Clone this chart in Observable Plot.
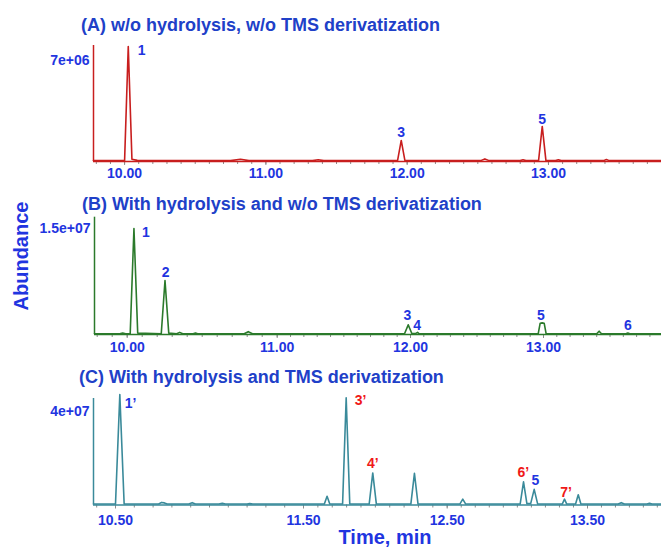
<!DOCTYPE html>
<html>
<head>
<meta charset="utf-8">
<script src="https://cdn.jsdelivr.net/npm/d3@7"></script>
<script src="https://cdn.jsdelivr.net/npm/@observablehq/plot@0.6"></script>
<style>
html, body { margin: 0; padding: 0; background: #fff; }
#chart { position: relative; width: 661px; height: 547px; overflow: hidden; font-family: "Liberation Sans", Arial, sans-serif; }
.panel { position: absolute; left: 0; }
.title { position: absolute; font-weight: bold; font-size: 18px; line-height: 1; color: #2040c8; white-space: nowrap; }
.axlabel { position: absolute; font-weight: bold; font-size: 20px; line-height: 1; color: #1f35e0; white-space: nowrap; transform: translate(-50%, -50%); }
</style>
</head>
<body>
<div id="chart"></div>
<script>
// ---------- Panel A: w/o hydrolysis, w/o TMS derivatization ----------
const timeA = [9.78, 9.99, 10.000, 10.026, 10.052, 10.09, 10.75, 10.82, 10.88, 11.33, 11.37, 11.41,
  11.932, 11.958, 11.984, 12.52, 12.55, 12.58, 12.80, 12.82, 12.84, 12.930, 12.956, 12.982,
  13.05, 13.07, 13.09, 13.39, 13.41, 13.43, 13.80];
const abundA = [0.06e6, 0.06e6, 0.06e6, 7.97e6, 0.15e6, 0.08e6, 0.06e6, 0.16e6, 0.06e6, 0.06e6, 0.12e6, 0.06e6,
  0.06e6, 1.46e6, 0.06e6, 0.06e6, 0.18e6, 0.06e6, 0.06e6, 0.12e6, 0.06e6, 0.06e6, 2.43e6, 0.06e6,
  0.06e6, 0.12e6, 0.06e6, 0.06e6, 0.14e6, 0.06e6, 0.06e6];
const peakTextA = ["1", "3", "5"];
const peakTimeA = [10.12, 11.958, 12.956];
const peakAbundA = [7.69e6, 2.03e6, 2.89e6];
const peakColorA = ["#1f35e0", "#1f35e0", "#1f35e0"];
const xTicksA = [10, 11, 12, 13];
const yTicksA = [7e6];
const yTickLabelsA = ["7e+06"];

// ---------- Panel B: with hydrolysis, w/o TMS derivatization ----------
const timeB = [9.782, 9.95, 9.97, 9.99, 10.02, 10.045, 10.07, 10.227, 10.252, 10.277, 10.33, 10.35, 10.37,
  10.44, 10.455, 10.47, 10.78, 10.807, 10.835, 11.955, 11.983, 12.01, 12.04, 12.053, 12.066,
  12.96, 12.975, 12.99, 13.005, 13.02, 13.40, 13.418, 13.436, 13.62, 13.634, 13.648, 13.887];
const abundB = [0.1e6, 0.1e6, 0.2e6, 0.1e6, 0.1e6, 15.0e6, 0.2e6, 0.1e6, 7.64e6, 0.2e6, 0.1e6, 0.3e6, 0.1e6,
  0.1e6, 0.2e6, 0.1e6, 0.1e6, 0.4e6, 0.1e6, 0.1e6, 1.37e6, 0.15e6, 0.15e6, 0.3e6, 0.1e6,
  0.1e6, 1.6e6, 1.65e6, 1.6e6, 0.1e6, 0.1e6, 0.47e6, 0.1e6, 0.1e6, 0.22e6, 0.1e6, 0.1e6];
const peakTextB = ["1", "2", "3", "4", "5", "6"];
const peakTimeB = [10.125, 10.257, 11.976, 12.049, 12.981, 13.634];
const peakAbundB = [14.48e6, 8.82e6, 2.69e6, 1.27e6, 2.69e6, 1.27e6];
const peakColorB = ["#1f35e0", "#1f35e0", "#1f35e0", "#1f35e0", "#1f35e0", "#1f35e0"];
const xTicksB = [10, 11, 12, 13];
const yTicksB = [1.5e7];
const yTickLabelsB = ["1.5e+07"];

// ---------- Panel C: with hydrolysis and TMS derivatization ----------
const timeC = [10.383, 10.50, 10.523, 10.546, 10.73, 10.745, 10.76, 10.775, 10.89, 10.908, 10.925,
  11.05, 11.068, 11.085, 11.20, 11.214, 11.23, 11.645, 11.664, 11.683, 11.772, 11.797, 11.822,
  11.957, 11.982, 12.007, 12.247, 12.272, 12.297, 12.59, 12.611, 12.632, 13.02, 13.044, 13.068,
  13.095, 13.120, 13.145, 13.32, 13.336, 13.352, 13.415, 13.434, 13.453, 13.72, 13.742, 13.764,
  13.925, 13.944, 13.963, 14.03];
const abundC = [0.04e7, 0.04e7, 4.72e7, 0.04e7, 0.04e7, 0.11e7, 0.09e7, 0.04e7, 0.04e7, 0.1e7, 0.04e7,
  0.04e7, 0.07e7, 0.04e7, 0.04e7, 0.06e7, 0.04e7, 0.04e7, 0.37e7, 0.04e7, 0.04e7, 4.58e7, 0.04e7,
  0.04e7, 1.37e7, 0.04e7, 0.04e7, 1.35e7, 0.04e7, 0.04e7, 0.25e7, 0.04e7, 0.04e7, 0.99e7, 0.06e7,
  0.06e7, 0.67e7, 0.04e7, 0.04e7, 0.25e7, 0.04e7, 0.04e7, 0.44e7, 0.04e7, 0.04e7, 0.1e7, 0.04e7,
  0.04e7, 0.07e7, 0.04e7, 0.04e7];
const peakTextC = ["1\u2019", "3\u2019", "4\u2019", "6\u2019", "5", "7\u2019"];
const peakTimeC = [10.580, 11.897, 11.982, 13.042, 13.129, 13.348];
const peakAbundC = [4.32e7, 4.46e7, 1.79e7, 1.40e7, 1.05e7, 0.55e7];
const peakColorC = ["#1f35e0", "#f01818", "#f01818", "#f01818", "#1f35e0", "#f01818"];
const xTicksC = [10.5, 11.5, 12.5, 13.5];
const yTicksC = [4e7];
const yTickLabelsC = ["4e+07"];

const tickBlue = "#1f35e0";

function panel(o) {
  const data = o.times.map((t, i) => ({t, v: o.values[i]}));
  const labels = o.ltext.map((s, i) => ({s, t: o.ltime[i], v: o.labund[i], c: o.lcolor[i]}));
  const lo = o.xDomain[0], hi = o.xDomain[o.xDomain.length - 1];
  const minor = d3.range(Math.ceil(lo * 10), Math.floor(hi * 10) + 1).map(k => k / 10);
  return Plot.plot({
    width: 661,
    height: o.height,
    marginTop: o.marginTop,
    marginBottom: o.marginBottom,
    marginLeft: o.xRange[0],
    marginRight: 0,
    style: {fontFamily: "'Liberation Sans', Arial, sans-serif", background: "transparent", overflow: "visible"},
    x: {type: "linear", domain: o.xDomain, range: o.xRange, label: null},
    y: {domain: [0, o.yMax], label: null},
    marks: [
      Plot.axisX({ticks: minor, tickSize: 3, tickFormat: () => "", stroke: "#8c8c8c", label: null}),
      Plot.axisX({ticks: o.xTicks, tickSize: 4, tickPadding: o.tickPad, tickFormat: d => d.toFixed(2),
        fill: tickBlue, stroke: "#8c8c8c", fontSize: 14, fontWeight: "bold", label: null}),
      Plot.axisY({ticks: o.yTicks, tickSize: 0, tickPadding: 4, label: null,
        tickFormat: d => o.yLabels[o.yTicks.indexOf(d)], fill: tickBlue, fontSize: 14, fontWeight: "bold"}),
      Plot.ruleY([0], {stroke: o.color, strokeWidth: 1.5}),
      Plot.ruleX([lo], {stroke: o.color, strokeWidth: 1.5}),
      Plot.line(data, {x: "t", y: "v", stroke: o.color, strokeWidth: 1.6}),
      Plot.text(labels, {x: "t", y: "v", text: "s", fill: d => d.c, fontSize: 14, fontWeight: "bold"})
    ]
  });
}

const chart = document.getElementById("chart");

function place(el, top) {
  const d = document.createElement("div");
  d.className = "panel";
  d.style.top = top + "px";
  d.appendChild(el);
  chart.appendChild(d);
}

place(panel({
  times: timeA, values: abundA, color: "#c81e1e",
  xDomain: [9.78, 13.80], xRange: [93, 661],
  yMax: 8.04e6, yTicks: yTicksA, yLabels: yTickLabelsA, xTicks: xTicksA,
  ltext: peakTextA, ltime: peakTimeA, labund: peakAbundA, lcolor: peakColorA,
  height: 185, marginTop: 45, marginBottom: 24, tickPad: 3
}), 0);

place(panel({
  times: timeB, values: abundB, color: "#2b7a2b",
  xDomain: [9.782, 10, 11, 12, 13, 13.887], xRange: [94, 126.7, 276.7, 410, 543, 661],
  yMax: 1.66e7, yTicks: yTicksB, yLabels: yTickLabelsB, xTicks: xTicksB,
  ltext: peakTextB, ltime: peakTimeB, labund: peakAbundB, lcolor: peakColorB,
  height: 175, marginTop: 31.7, marginBottom: 26, tickPad: 4
}), 185);

place(panel({
  times: timeC, values: abundC, color: "#3a8a9a",
  xDomain: [10.383, 10.5, 11.5, 12.5, 13.5, 14.03], xRange: [93, 115, 303, 446.7, 587, 661],
  yMax: 4.55e7, yTicks: yTicksC, yLabels: yTickLabelsC, xTicks: xTicksC,
  ltext: peakTextC, ltime: peakTimeC, labund: peakAbundC, lcolor: peakColorC,
  height: 187, marginTop: 38, marginBottom: 42.5, tickPad: 6.5
}), 360);

function addText(cls, txt, left, top, extra) {
  const d = document.createElement("div");
  d.className = cls;
  d.textContent = txt;
  d.style.left = left + "px";
  d.style.top = top + "px";
  if (extra) d.style.transform = extra;
  chart.appendChild(d);
}

addText("title", "(A) w/o hydrolysis, w/o TMS derivatization", 81, 15.5);
addText("title", "(B) With hydrolysis and w/o TMS derivatization", 82, 194.5);
addText("title", "(C) With hydrolysis and TMS derivatization", 79, 367.5);
addText("axlabel", "Abundance", 21, 255.5, "translate(-50%, -50%) rotate(-90deg)");
addText("axlabel", "Time, min", 385, 536.5);
</script>
</body>
</html>
